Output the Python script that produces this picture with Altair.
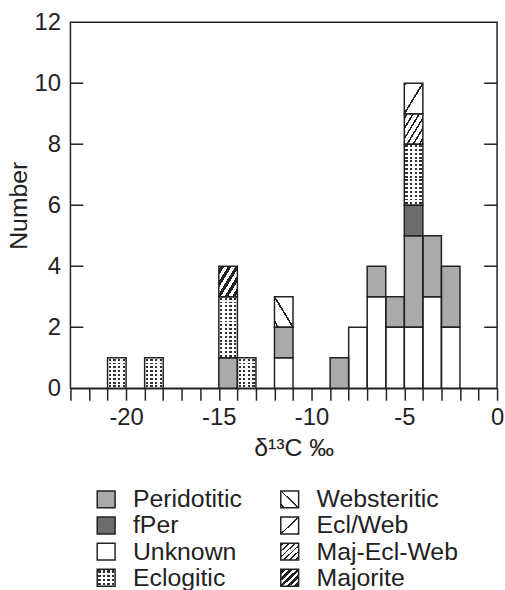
import altair as alt
import pandas as pd

# ---------------- data ----------------
bin_left = [-21, -19, -15, -14, -12, -9, -8, -7, -6, -5, -4, -3]
unknown = [0, 0, 0, 0, 1, 0, 2, 3, 2, 2, 3, 2]
peridotitic = [0, 0, 1, 0, 1, 1, 0, 1, 1, 3, 2, 2]
fper = [0, 0, 0, 0, 0, 0, 0, 0, 0, 1, 0, 0]
eclogitic = [1, 1, 2, 1, 0, 0, 0, 0, 0, 2, 0, 0]
websteritic = [0, 0, 0, 0, 1, 0, 0, 0, 0, 0, 0, 0]
maj_ecl_web = [0, 0, 0, 0, 0, 0, 0, 0, 0, 1, 0, 0]
ecl_web = [0, 0, 0, 0, 0, 0, 0, 0, 0, 1, 0, 0]
majorite = [0, 0, 1, 0, 0, 0, 0, 0, 0, 0, 0, 0]

stack_order = ["Unknown", "Peridotitic", "fPer", "Eclogitic", "Websteritic",
               "Maj-Ecl-Web", "Ecl/Web", "Majorite"]
counts = {"Unknown": unknown, "Peridotitic": peridotitic, "fPer": fper,
          "Eclogitic": eclogitic, "Websteritic": websteritic,
          "Maj-Ecl-Web": maj_ecl_web, "Ecl/Web": ecl_web, "Majorite": majorite}

legend_cats = ["Peridotitic", "fPer", "Unknown", "Eclogitic",
               "Websteritic", "Ecl/Web", "Maj-Ecl-Web", "Majorite"]
y_tick_values = [0, 2, 4, 6, 8, 10, 12]
x_tick_values = list(range(-23, 1))

# ---------------- styling ----------------
FONT = "Liberation Sans"
INK = "#222222"
LAB = 24
TIT = 25
solid = {"Peridotitic": "#aaaaaa", "fPer": "#6c6c6c"}
cat_colors = [solid.get(c, "#ffffff") for c in stack_order]

rows = []
for i, b in enumerate(bin_left):
    base = 0
    for cat in stack_order:
        n = counts[cat][i]
        if n > 0:
            rows.append(dict(cat=cat, x0=b, x1=b + 1, y0=base, y1=base + n))
            base += n
seg = pd.DataFrame(rows)
cells = pd.DataFrame([dict(cat=r.cat, x0=r.x0, x1=r.x1, y0=r.y0 + k, y1=r.y0 + k + 1)
                      for r in seg.itertuples() for k in range(int(r.y1 - r.y0))])


def grad(bands, x1, y1, x2, y2, dark=INK, light="#ffffff"):
    stops = [alt.GradientStop(offset=0, color=light)]
    for a, b in bands:
        a = max(0.0, min(1.0, a)); b = max(0.0, min(1.0, b))
        stops += [alt.GradientStop(offset=a, color=light), alt.GradientStop(offset=a, color=dark),
                  alt.GradientStop(offset=b, color=dark), alt.GradientStop(offset=b, color=light)]
    stops.append(alt.GradientStop(offset=1, color=light))
    return alt.LinearGradient(gradient="linear", stops=stops, x1=x1, y1=y1, x2=x2, y2=y2)


def periodic(n, duty, phase=0.0):
    return [((i + phase) / n, (i + phase + duty) / n) for i in range(n)]


def lines(centers, w):
    return [(c - w / 2, c + w / 2) for c in centers]


def patterns(rows_n, cols_n):
    return {
        "Majorite": grad(periodic(5, 0.5, 0.25), 0, 0, 1, 1),
        "Maj-Ecl-Web": grad(periodic(6, 0.28, 0.3), 0, 0, 1, 1),
        "Ecl/Web": grad(lines([0.03, 0.5, 0.97], 0.05), 0, 0, 1, 1),
        "Websteritic": grad(lines([0.1, 0.5], 0.05), 0, 1, 1, 0),
        "dots_rows": grad(periodic(rows_n, 0.5, 0.25), 0, 0, 0, 1, dark="#333333"),
        "dots_cols": grad(periodic(cols_n, 0.5, 0.25), 0, 0, 1, 0,
                          dark="rgba(255,255,255,0)", light="#ffffff"),
    }


# ---------------- main histogram ----------------
xs = alt.Scale(domain=[-23, 0], nice=False, zero=False)
ys = alt.Scale(domain=[0, 12], nice=False, zero=True)
W, H = 430, 369

XA = alt.Axis(values=x_tick_values, tickSize=12, tickWidth=1.5, tickColor=INK,
              domain=True, domainColor=INK, domainWidth=1.5, grid=False,
              labelExpr="datum.value % 5 == 0 ? toString(datum.value) : ''",
              labelFont=FONT, labelFontSize=LAB, labelColor=INK, labelPadding=6,
              labelFlush=False, title="δ¹³C ‰", titleFont=FONT, titleFontSize=TIT,
              titleFontWeight="normal", titleColor=INK, titlePadding=6, titleX=225)
YA = alt.Axis(values=y_tick_values, ticks=False, domain=False, grid=False,
              labelFont=FONT, labelFontSize=LAB, labelColor=INK, labelPadding=10,
              title="Number", titleFont=FONT, titleFontSize=TIT,
              titleFontWeight="normal", titleColor=INK, titlePadding=3)


def enc():
    return dict(x=alt.X("x0:Q", scale=xs, axis=XA), x2="x1:Q",
                y=alt.Y("y0:Q", scale=ys, axis=YA), y2="y1:Q")


P = patterns(8, 4)
layers = [
    alt.Chart(seg).mark_rect(strokeWidth=0).encode(
        fill=alt.Fill("cat:N", scale=alt.Scale(domain=stack_order, range=cat_colors), legend=None),
        **enc()),
]
for cat in ["Majorite", "Maj-Ecl-Web", "Ecl/Web", "Websteritic"]:
    layers.append(alt.Chart(seg).transform_filter(alt.datum.cat == cat)
                  .mark_rect(fill=P[cat], strokeWidth=0).encode(**enc()))
ecl_cells = cells[cells.cat == "Eclogitic"]
layers.append(alt.Chart(ecl_cells).mark_rect(fill=P["dots_rows"], strokeWidth=0).encode(**enc()))
layers.append(alt.Chart(ecl_cells).mark_rect(fill=P["dots_cols"], strokeWidth=0).encode(**enc()))
layers.append(alt.Chart(seg).mark_rect(fill="transparent", stroke=INK, strokeWidth=1.5).encode(**enc()))

ticks_df = pd.DataFrame({"y0": y_tick_values[1:-1]})
layers.append(alt.Chart(ticks_df).mark_rule(color=INK, strokeWidth=1.5).encode(
    y=alt.Y("y0:Q", scale=ys, axis=YA), x=alt.value(0), x2=alt.value(13)))
layers.append(alt.Chart(ticks_df).mark_rule(color=INK, strokeWidth=1.5).encode(
    y=alt.Y("y0:Q", scale=ys, axis=YA), x=alt.value(W - 13), x2=alt.value(W)))

main = alt.layer(*layers).properties(
    width=W, height=H, view=alt.ViewBackground(stroke=INK, strokeWidth=1.5))

# ---------------- legend ----------------
leg = pd.DataFrame({"cat": legend_cats,
                    "col": [0, 0, 0, 0, 1, 1, 1, 1],
                    "row": [0, 1, 2, 3, 0, 1, 2, 3]})
lx = alt.Scale(domain=[0, 1], range=[36, 221])
ly = alt.Scale(domain=[0, 3], range=[13, 92])
lenc = dict(x=alt.X("col:Q", scale=lx, axis=None), y=alt.Y("row:Q", scale=ly, axis=None))
LP = patterns(4, 4)
BW, BH = 18, 17
llayers = [alt.Chart(leg).mark_rect(width=BW, height=BH, strokeWidth=0).encode(
    fill=alt.Fill("cat:N", scale=alt.Scale(domain=stack_order, range=cat_colors), legend=None),
    **lenc)]
for cat in ["Majorite", "Maj-Ecl-Web", "Ecl/Web", "Websteritic"]:
    llayers.append(alt.Chart(leg).transform_filter(alt.datum.cat == cat)
                   .mark_rect(width=BW, height=BH, fill=LP[cat], strokeWidth=0).encode(**lenc))
for key in ["dots_rows", "dots_cols"]:
    llayers.append(alt.Chart(leg).transform_filter(alt.datum.cat == "Eclogitic")
                   .mark_rect(width=BW, height=BH, fill=LP[key], strokeWidth=0).encode(**lenc))
llayers.append(alt.Chart(leg).mark_rect(width=BW, height=BH, fill="transparent",
                                        stroke=INK, strokeWidth=1.5).encode(**lenc))
llayers.append(alt.Chart(leg).mark_text(align="left", baseline="middle", dx=27, dy=0,
                                        font=FONT, fontSize=TIT, color=INK).encode(
    text="cat:N", **lenc))
legend = alt.layer(*llayers).properties(
    width=W, height=104, view=alt.ViewBackground(stroke="transparent"))

chart = alt.vconcat(main, legend, spacing=24).properties(
    padding={"left": 5, "top": 7, "right": 0, "bottom": 0})

chart.save("out.html", embed_options={"renderer": "svg", "actions": False})
